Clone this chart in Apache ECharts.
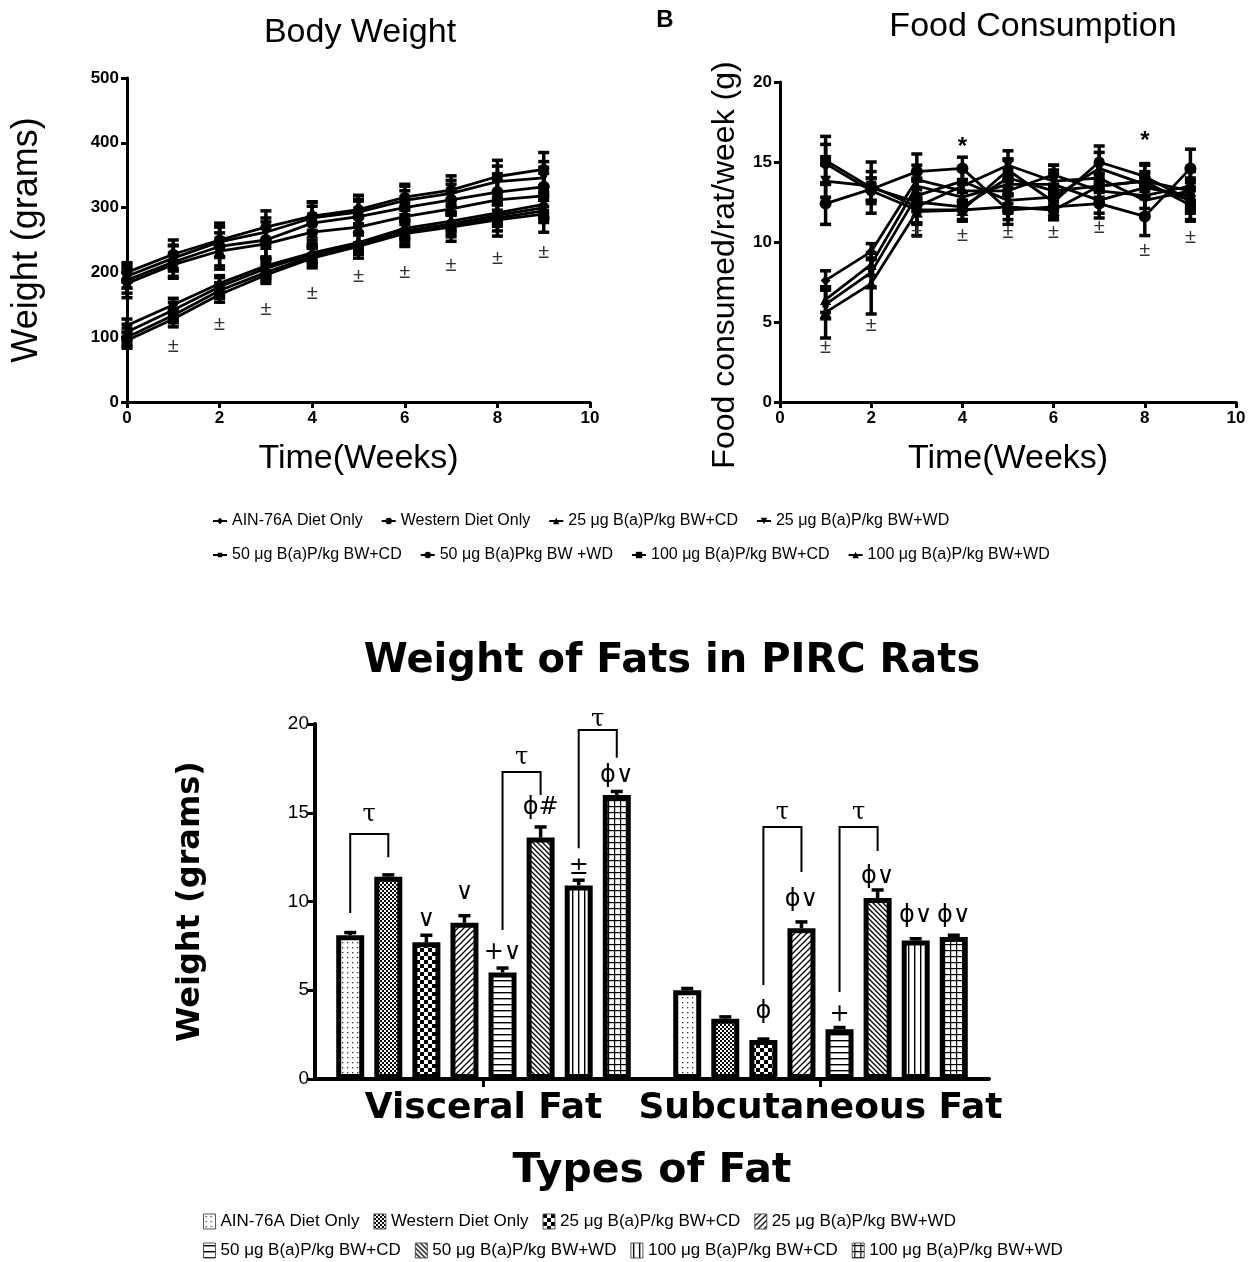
<!DOCTYPE html>
<html><head><meta charset="utf-8">
<script src="https://cdn.jsdelivr.net/npm/echarts@6/dist/echarts.min.js"></script>
<style>html,body{margin:0;padding:0;background:#fff}#c{width:1251px;height:1262px}</style>
</head><body><div id="c"></div>
<script>
// ---------- DATA ----------
const lineNames = ['AIN-76A Diet Only','Western Diet Only','25 μg B(a)P/kg BW+CD','25 μg B(a)P/kg BW+WD',
  '50 μg B(a)P/kg BW+CD','50 μg B(a)Pkg BW +WD','100 μg B(a)P/kg BW+CD','100 μg B(a)P/kg BW+WD'];
const barNames = ['AIN-76A Diet Only','Western Diet Only','25 μg B(a)P/kg BW+CD','25 μg B(a)P/kg BW+WD',
  '50 μg B(a)P/kg BW+CD','50 μg B(a)P/kg BW+WD','100 μg B(a)P/kg BW+CD','100 μg B(a)P/kg BW+WD'];

const weeksBody = [0,1,2,3,4,5,6,7,8,9];
const bwAIN     = [118,150,183,210,230,246,268,279,292,305];
const bwWestern = [200,228,250,270,287,297,316,327,348,359];
const bw25CD    = [108,142,178,206,228,244,264,275,288,300];
const bw25WD    = [194,222,247,262,284,293,311,322,340,346];
const bw50CD    = [100,134,172,200,225,243,262,272,284,295];
const bw50WD    = [188,216,240,250,276,286,300,312,324,332];
const bw100CD   = [95,128,166,196,222,240,260,270,281,290];
const bw100WD   = [183,212,233,244,262,270,286,298,312,318];
const bwErrAIN     = [10,10,12,14,15,14,16,15,18,20];
const bwErrWestern = [15,22,26,25,22,22,20,22,25,26];
const bwErrCD25    = [12,12,14,15,14,16,15,16,17,18];
const bwErrWD25    = [18,20,24,22,24,20,22,20,24,25];
const bwErrCD50    = [14,10,12,14,16,15,18,17,20,18];
const bwErrWD50    = [20,25,30,28,26,24,26,24,28,30];
const bwErrCD100   = [12,12,12,13,15,18,20,22,25,28];
const bwErrWD100   = [22,18,28,25,24,25,22,26,30,35];

const weeksFood = [1,2,3,4,5,6,7,8,9];
const fcAIN     = [7.6,9.4,13.9,13.2,13.2,14.2,13.2,12.9,13.5];
const fcWestern = [14.9,13.2,12.0,12.0,14.5,12.5,15.0,14.1,12.6];
const fc25CD    = [6.4,8.6,13.5,12.8,13.6,13.6,12.6,13.4,12.9];
const fc25WD    = [13.8,13.5,12.2,13.5,14.8,13.8,14.0,12.6,13.2];
const fc50CD    = [6.1,8.1,12.9,13.8,12.6,12.8,14.6,13.6,12.6];
const fc50WD    = [12.4,13.3,14.4,14.6,12.0,12.2,12.4,11.6,14.6];
const fc100CD   = [15.1,13.4,12.5,12.2,14.0,13.2,13.5,13.8,12.3];
const fc100WD   = [5.6,7.4,11.9,12.0,12.2,12.0,13.5,13.8,13.2];
const fcErrAIN     = [0.6,0.5,0.9,0.7,0.8,0.6,0.7,0.8,0.9];
const fcErrWestern = [1.2,0.8,0.8,0.6,0.7,0.9,1.0,0.7,1.3];
const fcErrCD25    = [0.8,0.7,0.9,0.8,0.6,0.7,0.8,0.6,0.8];
const fcErrWD25    = [1.0,0.9,1.8,1.0,0.9,1.0,0.9,0.9,1.4];
const fcErrCD50    = [0.9,0.9,1.0,0.7,0.8,0.8,1.0,0.7,0.7];
const fcErrWD50    = [1.3,0.7,1.1,0.7,0.9,0.8,0.9,1.2,1.2];
const fcErrCD100   = [1.5,1.6,1.3,0.9,1.1,1.3,0.8,1.1,0.9];
const fcErrWD100   = [1.6,1.9,0.8,0.6,0.8,0.6,0.7,0.6,0.8];

const bodySigWeeks = [1,2,3,4,5,6,7,8,9];
const bodySigY     = [86,119,142,167,193,200,211,222,231];
const foodSigWeeks = [1,2,3,4,5,6,7,8,9];
const foodSigY     = [3.4,4.8,10.6,10.4,10.6,10.6,10.9,9.5,10.3];
const foodStarWeeks = [4,8];
const foodStarY     = [15.9,16.3];

const fatCategories = ['Visceral Fat','Subcutaneous Fat'];
const visceralFat    = [8.1,11.4,7.7,8.8,6.0,13.6,10.9,16.0];
const visceralErr    = [0.15,0.1,0.4,0.4,0.25,0.6,0.3,0.2];
const subcutaneousFat= [5.0,3.4,2.2,8.5,2.8,10.2,7.8,8.0];
const subcutaneousErr= [0.1,0.1,0.05,0.35,0.1,0.45,0.1,0.1];
// brackets: [category, leftBar, rightBar, leftBottom, rightBottom, top, labelY]
const fatBrackets = [
  [0,0,1,9.35,12.5,13.8,14.9],
  [0,4,5,8.4,16.0,17.3,18.1],
  [0,6,7,13.0,18.1,19.66,20.25],
  [1,2,3,5.3,11.66,14.2,15.0],
  [1,4,5,4.9,12.85,14.2,15.0]
];
// annotations: [category, bar, y, text]
const fatMarks = [
  [0,2,8.96,'∨'],[0,3,10.5,'∨'],[0,4,7.1,'+∨'],[0,5,15.3,'ϕ#'],[0,6,11.9,'±'],[0,7,17.1,'ϕ∨'],
  [1,2,3.8,'ϕ'],[1,3,10.1,'ϕ∨'],[1,4,3.6,'+'],[1,5,11.4,'ϕ∨'],[1,6,9.2,'ϕ∨'],[1,7,9.2,'ϕ∨']
];

// ---------- STYLE ----------
const bodySeries = [bwAIN,bwWestern,bw25CD,bw25WD,bw50CD,bw50WD,bw100CD,bw100WD];
const bodyErrs = [bwErrAIN,bwErrWestern,bwErrCD25,bwErrWD25,bwErrCD50,bwErrWD50,bwErrCD100,bwErrWD100];
const foodSeries = [fcAIN,fcWestern,fc25CD,fc25WD,fc50CD,fc50WD,fc100CD,fc100WD];
const foodErrs = [fcErrAIN,fcErrWestern,fcErrCD25,fcErrWD25,fcErrCD50,fcErrWD50,fcErrCD100,fcErrWD100];
const symbols = ['diamond','circle','triangle','triangle','diamond','circle','rect','triangle'];
const symRot = [0,0,0,180,45,0,0,0];
const symSize = [10,11,11,11,9,12,11,12];

function pattern(kind){
  const sizes = {dots:5,fine:4,checker:8,fwd:6,horiz:6,back:5,vert:6,grid:6};
  const s = sizes[kind];
  const c = document.createElement('canvas'); c.width = s; c.height = s;
  const g = c.getContext('2d');
  g.fillStyle = '#fff'; g.fillRect(0,0,s,s);
  g.fillStyle = '#000'; g.strokeStyle = '#000'; g.lineWidth = 1.3;
  if (kind==='dots'){ g.fillStyle='#333'; g.fillRect(2,2,1.3,1.3); }
  else if (kind==='fine'){ g.fillRect(0,0,2,2); g.fillRect(2,2,2,2); }
  else if (kind==='checker'){ g.fillRect(0,0,4,4); g.fillRect(4,4,4,4); }
  else if (kind==='fwd'){ g.beginPath(); g.moveTo(0,s); g.lineTo(s,0); g.moveTo(-1,1); g.lineTo(1,-1); g.moveTo(s-1,s+1); g.lineTo(s+1,s-1); g.stroke(); }
  else if (kind==='back'){ g.beginPath(); g.moveTo(0,0); g.lineTo(s,s); g.moveTo(s-1,-1); g.lineTo(s+1,1); g.moveTo(-1,s-1); g.lineTo(1,s+1); g.stroke(); }
  else if (kind==='horiz'){ g.fillRect(0,2,s,1.4); }
  else if (kind==='vert'){ g.fillRect(2,0,1.4,s); }
  else if (kind==='grid'){ g.fillRect(0,2,s,1.2); g.fillRect(2,0,1.2,s); }
  return {image:c, repeat:'repeat'};
}
const patterns = ['dots','fine','checker','fwd','horiz','back','vert','grid'].map(pattern);

const BAR_W = 28, BAR_GAP = 0.36;
const SANS = '"Liberation Sans", Arial, sans-serif';
const DJ = '"DejaVu Sans", sans-serif';

function errRender(capW, lw){
  return function(params, api){
    const x = api.value(0), lo = api.value(1), hi = api.value(2);
    const a = api.coord([x, hi]), b = api.coord([x, lo]);
    const st = {stroke:'#000', lineWidth:lw};
    return {type:'group', children:[
      {type:'line', shape:{x1:a[0],y1:a[1],x2:b[0],y2:b[1]}, style:st},
      {type:'line', shape:{x1:a[0]-capW/2,y1:a[1],x2:a[0]+capW/2,y2:a[1]}, style:st},
      {type:'line', shape:{x1:b[0]-capW/2,y1:b[1],x2:b[0]+capW/2,y2:b[1]}, style:st}
    ]};
  };
}
function textRender(list, font, color){
  return function(params, api){
    const p = api.coord([api.value(0), api.value(1)]);
    return {type:'text', x:p[0], y:p[1], style:{text:list[params.dataIndex], font:font, fill:color, align:'center', verticalAlign:'middle'}};
  };
}
function barX(api, cat, i){
  const c = api.coord([cat, 0])[0];
  const pitch = BAR_W*(1+BAR_GAP);
  return c + (i-3.5)*pitch;
}

const axisBase = {
  axisLine:{show:true, lineStyle:{color:'#000', width:3}},
  axisTick:{show:true, length:6, lineStyle:{color:'#000', width:3}},
  axisLabel:{color:'#000', fontSize:17, fontWeight:'bold', fontFamily:SANS, margin:8},
  splitLine:{show:false}
};

const series = [];
bodySeries.forEach((vals,i)=>{
  series.push({type:'line', name:lineNames[i], xAxisIndex:0, yAxisIndex:0,
    data: weeksBody.map((w,k)=>[w, vals[k]]),
    symbol:symbols[i], symbolSize:symSize[i], symbolRotate:symRot[i],
    lineStyle:{color:'#000', width:2.8}, itemStyle:{color:'#000'}, z:4});
  series.push({type:'custom', xAxisIndex:0, yAxisIndex:0, renderItem:errRender(11,3.5),
    encode:{x:0, y:[1,2]},
    data: weeksBody.map((w,k)=>[w, vals[k]-bodyErrs[i][k], vals[k]+bodyErrs[i][k]]), z:3});
});
foodSeries.forEach((vals,i)=>{
  series.push({type:'line', name:lineNames[i], xAxisIndex:1, yAxisIndex:1,
    data: weeksFood.map((w,k)=>[w, vals[k]]),
    symbol:symbols[i], symbolSize:symSize[i], symbolRotate:symRot[i],
    lineStyle:{color:'#000', width:2.8}, itemStyle:{color:'#000'}, z:4});
  series.push({type:'custom', xAxisIndex:1, yAxisIndex:1, renderItem:errRender(11,3.5),
    encode:{x:0, y:[1,2]},
    data: weeksFood.map((w,k)=>[w, vals[k]-foodErrs[i][k], vals[k]+foodErrs[i][k]]), z:3});
});
series.push({type:'custom', xAxisIndex:0, yAxisIndex:0, encode:{x:0,y:1},
  renderItem:textRender(bodySigWeeks.map(()=> '±'), '20px '+SANS, '#333'),
  data: bodySigWeeks.map((w,k)=>[w, bodySigY[k]]), z:5});
series.push({type:'custom', xAxisIndex:1, yAxisIndex:1, encode:{x:0,y:1},
  renderItem:textRender(foodSigWeeks.map(()=> '±'), '20px '+SANS, '#333'),
  data: foodSigWeeks.map((w,k)=>[w, foodSigY[k]]), z:5});
series.push({type:'custom', xAxisIndex:1, yAxisIndex:1, encode:{x:0,y:1},
  renderItem:textRender(foodStarWeeks.map(()=> '*'), 'bold 24px '+SANS, '#000'),
  data: foodStarWeeks.map((w,k)=>[w, foodStarY[k]]), z:5});

barNames.forEach((n,i)=>{
  series.push({type:'bar', name:'bar:'+n, xAxisIndex:2, yAxisIndex:2,
    data:[visceralFat[i], subcutaneousFat[i]], barWidth:BAR_W, barGap:(BAR_GAP*100)+'%',
    itemStyle:{color:patterns[i], borderColor:'#000', borderWidth:5}, z:2});
});
const barErrData = [];
for (let i=0;i<8;i++){
  barErrData.push([0, i, visceralFat[i], visceralErr[i]]);
  barErrData.push([1, i, subcutaneousFat[i], subcutaneousErr[i]]);
}
series.push({type:'custom', xAxisIndex:2, yAxisIndex:2, encode:{x:0, y:2}, z:4,
  data: barErrData,
  renderItem:function(params, api){
    const d = barErrData[params.dataIndex];
    const x = barX(api, d[0], d[1]);
    const y0 = api.coord([d[0], d[2]])[1], y1 = api.coord([d[0], d[2]+d[3]])[1];
    const st = {stroke:'#000', lineWidth:3.5};
    return {type:'group', children:[
      {type:'line', shape:{x1:x,y1:y0,x2:x,y2:y1}, style:st},
      {type:'line', shape:{x1:x-6,y1:y1,x2:x+6,y2:y1}, style:st}
    ]};
  }});
series.push({type:'custom', xAxisIndex:2, yAxisIndex:2, encode:{x:0, y:5}, z:5,
  data: fatBrackets,
  renderItem:function(params, api){
    const d = fatBrackets[params.dataIndex];
    const xa = barX(api, d[0], d[1]), xb = barX(api, d[0], d[2]);
    const ya = api.coord([d[0], d[3]])[1], yb = api.coord([d[0], d[4]])[1];
    const yt = api.coord([d[0], d[5]])[1], yl = api.coord([d[0], d[6]])[1];
    return {type:'group', children:[
      {type:'polyline', shape:{points:[[xa,ya],[xa,yt],[xb,yt],[xb,yb]]}, style:{stroke:'#000', lineWidth:2, fill:null}},
      {type:'text', x:(xa+xb)/2, y:yl, style:{text:'τ', font:'24px "DejaVu Serif", serif', fill:'#000', align:'center', verticalAlign:'middle'}}
    ]};
  }});
series.push({type:'custom', xAxisIndex:2, yAxisIndex:2, encode:{x:0, y:2}, z:5,
  data: fatMarks.map(m=>[m[0], m[1], m[2]]),
  renderItem:function(params, api){
    const d = fatMarks[params.dataIndex];
    const x = barX(api, d[0], d[1]);
    const y = api.coord([d[0], d[2]])[1];
    return {type:'text', x:x, y:y, style:{text:d[3], font:'24px '+DJ, fill:'#000', align:'center', verticalAlign:'middle'}};
  }});

const legendLine = {orient:'horizontal', itemWidth:14, itemHeight:8, itemGap:18,
  textStyle:{fontSize:16, color:'#000', fontFamily:SANS}};
const legendBar = {orient:'horizontal', icon:'rect', itemWidth:12, itemHeight:15, itemGap:14,
  textStyle:{fontSize:17, color:'#000', fontFamily:SANS},
  itemStyle:{borderColor:'#555', borderWidth:1},
  formatter: n => n.replace('bar:','')};

const option = {
  animation:false,
  backgroundColor:'#fff',
  graphic:[
    {type:'text', x:360, y:33, style:{text:'Body Weight', font:'34px '+SANS, fill:'#000', align:'center', verticalAlign:'middle'}},
    {type:'text', x:1033, y:27, style:{text:'Food Consumption', font:'34px '+SANS, fill:'#000', align:'center', verticalAlign:'middle'}},
    {type:'text', x:665, y:20, style:{text:'B', font:'bold 24px '+SANS, fill:'#000', align:'center', verticalAlign:'middle'}},
    {type:'text', x:725, y:265, rotation:Math.PI/2, style:{text:'Food consumed/rat/week (g)', font:'32px '+SANS, fill:'#000', align:'center', verticalAlign:'middle'}},
    {type:'text', x:672, y:662, style:{text:'Weight of Fats in PIRC Rats', font:'bold 40px '+DJ, fill:'#000', align:'center', verticalAlign:'middle'}}
  ],
  legend:[
    Object.assign({}, legendLine, {data:lineNames.slice(0,4), left:207, top:508}),
    Object.assign({}, legendLine, {data:lineNames.slice(4,8), left:207, top:542}),
    Object.assign({}, legendBar, {data:barNames.slice(0,4).map(n=>'bar:'+n), left:198, top:1208}),
    Object.assign({}, legendBar, {data:barNames.slice(4,8).map(n=>'bar:'+n), left:198, top:1237})
  ],
  grid:[
    {left:127, top:78, width:463, height:324},
    {left:780, top:82, width:456, height:320},
    {left:315, top:724, width:674, height:355}
  ],
  xAxis:[
    Object.assign({}, axisBase, {type:'value', gridIndex:0, min:0, max:10, interval:2,
      name:'Time(Weeks)', nameLocation:'middle', nameGap:40, nameTextStyle:{fontSize:34, color:'#000', fontFamily:SANS}}),
    Object.assign({}, axisBase, {type:'value', gridIndex:1, min:0, max:10, interval:2,
      name:'Time(Weeks)', nameLocation:'middle', nameGap:40, nameTextStyle:{fontSize:34, color:'#000', fontFamily:SANS}}),
    {type:'category', gridIndex:2, data:fatCategories,
      axisLine:{show:true, lineStyle:{color:'#000', width:4}},
      axisTick:{show:true, alignWithLabel:true, length:8, lineStyle:{color:'#000', width:3}},
      axisLabel:{color:'#000', fontSize:36, fontWeight:'bold', fontFamily:DJ, margin:12, interval:0, hideOverlap:false},
      name:'Types of Fat', nameLocation:'middle', nameGap:72,
      nameTextStyle:{fontSize:41, fontWeight:'bold', color:'#000', fontFamily:DJ}}
  ],
  yAxis:[
    Object.assign({}, axisBase, {type:'value', gridIndex:0, min:0, max:500, interval:100,
      name:'Weight (grams)', nameLocation:'middle', nameGap:82, nameTextStyle:{fontSize:36, color:'#000', fontFamily:SANS}}),
    Object.assign({}, axisBase, {type:'value', gridIndex:1, min:0, max:20, interval:5}),
    {type:'value', gridIndex:2, min:0, max:20, interval:5,
      axisLine:{show:true, lineStyle:{color:'#000', width:4}},
      axisTick:{show:true, length:7, lineStyle:{color:'#000', width:3}},
      axisLabel:{color:'#000', fontSize:19, fontFamily:SANS, margin:6},
      splitLine:{show:false},
      name:'Weight (grams)', nameLocation:'middle', nameGap:108,
      nameTextStyle:{fontSize:32, fontWeight:'bold', color:'#000', fontFamily:DJ}}
  ],
  series: series
};
const chart = echarts.init(document.getElementById('c'));
chart.setOption(option);
</script>
</body></html>
